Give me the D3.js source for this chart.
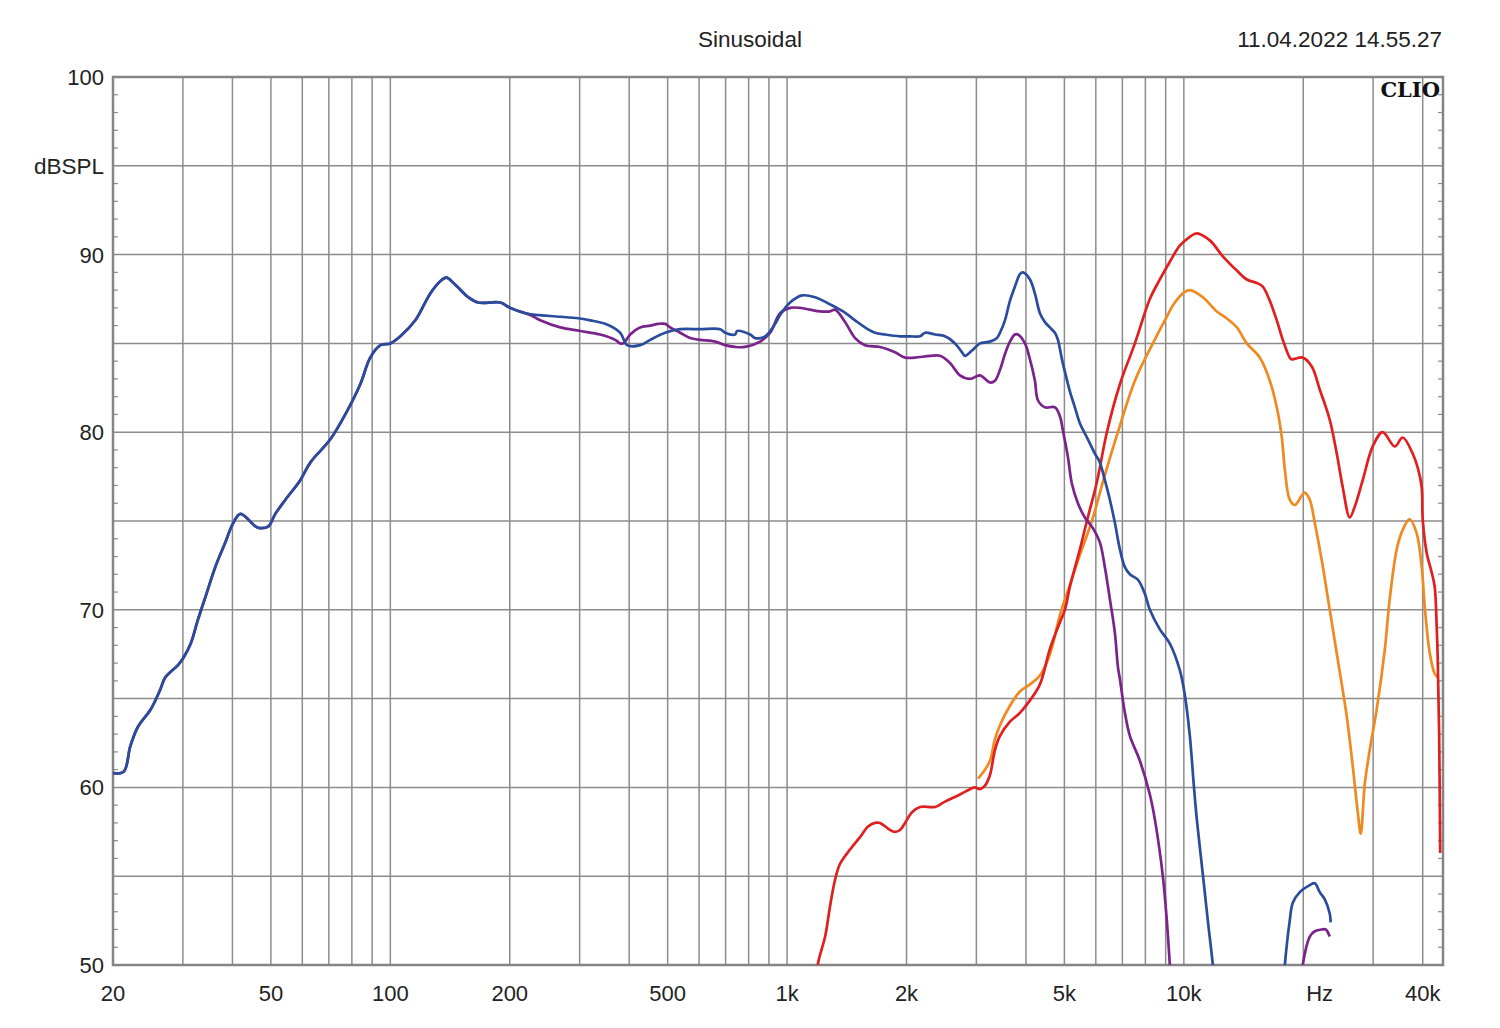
<!DOCTYPE html>
<html>
<head>
<meta charset="utf-8">
<script src="https://cdn.jsdelivr.net/npm/d3@7/dist/d3.min.js"></script>
<style>
  html, body { margin: 0; padding: 0; background: #ffffff; }
  svg { display: block; }
  text { font-family: Arial, "Liberation Sans", sans-serif; fill: #222; }
</style>
</head>
<body>
<svg id="chart" width="1500" height="1028"></svg>
<script>
// ---------- DATA ----------
const titleText = "Sinusoidal";
const dateText = "11.04.2022 14.55.27";
const yLabel = "dBSPL";
const yTickValues = [50, 60, 70, 80, 90, 100];
const xTickValues = [20, 50, 100, 200, 500, 1000, 2000, 5000, 10000, 22000, 40000];
const xTickLabels = ["20", "50", "100", "200", "500", "1k", "2k", "5k", "10k", "Hz", "40k"];
const xGridValues = [30, 40, 50, 60, 70, 80, 90, 100, 200, 300, 400, 500, 600, 700, 800, 900,
  1000, 2000, 3000, 4000, 5000, 6000, 7000, 8000, 9000, 10000, 20000, 30000, 40000];
const yGridValues = [55, 60, 65, 70, 75, 80, 85, 90, 95];

// shared low-frequency portion (blue and purple overlap)
const sharedFreq = [20, 21.3, 22.1, 23.1, 24.9, 26.3, 27.1, 29.2, 30.1, 31.4, 32.7, 34.4, 36.2, 38.4, 40, 41.9,
  45.7, 47, 49.3, 51.3, 54.4, 59.3, 62.9, 70.6, 77, 84, 89, 94.4, 100, 106, 115.6, 126, 133.6, 138.4,
  145.8, 157.2, 166.6, 189.3, 200.6, 218.9];
const sharedDb = [60.8, 60.9, 62.3, 63.4, 64.4, 65.5, 66.2, 66.9, 67.3, 68.1, 69.4, 70.9, 72.4, 73.8, 74.8, 75.4,
  74.7, 74.6, 74.7, 75.4, 76.2, 77.3, 78.3, 79.6, 81.0, 82.7, 84.2, 84.9, 85.0, 85.4, 86.3, 87.8, 88.5, 88.7,
  88.3, 87.6, 87.3, 87.3, 87.0, 86.7];

const blueFreq = [268.1, 301, 319, 348, 379.6, 395.4, 426.4, 451.8, 492.9, 537.8, 603.9, 678, 698.1, 739.6,
  748.3, 806.9, 830.6, 880.3, 932.9, 960.3, 1017.6, 1090.9, 1176.3, 1283, 1383.8, 1484, 1572, 1666, 1766,
  1926, 2041, 2163, 2227, 2360, 2500, 2650, 2760, 2808, 2925, 3063, 3246, 3381, 3440, 3541, 3645, 3752,
  3863, 3931, 4094, 4214, 4338, 4466, 4597, 4733, 4816, 4929, 5015, 5162, 5314, 5470, 5730, 5968, 6143,
  6324, 6510, 6702, 6900, 7103, 7311, 7658, 7976, 8210, 8701, 9220, 9770, 10058, 10354, 10598, 10783,
  11166, 11494, 11832, 12100];
const blueDb = [86.5, 86.4, 86.3, 86.1, 85.6, 84.9, 84.9, 85.2, 85.6, 85.8, 85.8, 85.8, 85.6, 85.5,
  85.7, 85.5, 85.3, 85.4, 86.1, 86.6, 87.3, 87.7, 87.6, 87.2, 86.8, 86.3, 85.9, 85.6, 85.5,
  85.4, 85.4, 85.4, 85.6, 85.5, 85.4, 85.0, 84.5, 84.3, 84.6, 85.0, 85.1, 85.3, 85.6, 86.3, 87.4, 88.2,
  88.9, 89.0, 88.6, 87.8, 86.7, 86.2, 85.9, 85.6, 85.2, 84.1, 83.4, 82.3, 81.4, 80.5, 79.6, 78.8, 78.3,
  77.3, 76.2, 74.9, 73.4, 72.4, 72.0, 71.7, 70.9, 70.0, 68.9, 68.1, 66.6, 65.2, 62.9, 60.1, 58.2,
  55.1, 52.5, 50.0, 47.5];
const blueStubFreq = [17700, 17970, 18490, 18820, 19600, 20770, 21380, 22010, 22660, 23320, 23450];
const blueStubDb = [48.0, 50.0, 52.5, 53.5, 54.1, 54.5, 54.6, 54.1, 53.7, 52.9, 52.4];

const purpleFreq = [225.3, 238.7, 268.1, 301, 338.1, 368.8, 379.6, 386.3, 402.4, 426.4, 451.8, 473.3, 492.9,
  507.4, 537.8, 569.8, 603.9, 658.6, 698.1, 739.6, 783.9, 855.1, 906.3, 960.3, 1017.6, 1078.3, 1142.6,
  1211, 1283, 1321, 1400, 1484, 1572, 1715, 1871, 1983, 2101, 2292, 2429, 2574, 2728, 2891, 3063, 3246,
  3341, 3440, 3541, 3645, 3752, 3818, 3977, 4094, 4214, 4288, 4466, 4733, 4872, 4957, 5103, 5223, 5408,
  5631, 5899, 6143, 6324, 6510, 6702, 6820, 6900, 7103, 7311, 7748, 8210, 8452, 8853, 9060, 9220, 9400];
const purpleDb = [86.6, 86.3, 85.9, 85.7, 85.5, 85.2, 85.0, 85.0, 85.5, 85.9, 86.0, 86.1, 86.1,
  85.9, 85.6, 85.3, 85.2, 85.1, 84.9, 84.8, 84.8, 85.1, 85.6, 86.7, 87.0, 87.0, 86.9,
  86.8, 86.8, 86.9, 86.2, 85.3, 84.9, 84.8, 84.5, 84.2, 84.2, 84.3, 84.3, 83.9, 83.2, 83.0, 83.2, 82.8,
  82.9, 83.5, 84.4, 85.1, 85.5, 85.5, 85.0, 84.1, 82.9, 81.8, 81.4, 81.4, 80.9, 80.1, 78.6, 77.1, 76.0,
  75.2, 74.6, 73.8, 72.4, 70.6, 68.7, 66.8, 66.1, 64.2, 62.9, 61.5, 59.6, 58.2, 55.0, 52.5, 50.0, 47.0];
const purpleStubFreq = [19700, 19940, 20770, 21380, 22260, 22790, 23320];
const purpleStubDb = [48.5, 50.0, 51.6, 51.9, 52.0, 52.0, 51.6];

const redFreq = [1180, 1197, 1247, 1283, 1321, 1360, 1441, 1527, 1600, 1666, 1715, 1817, 1871, 1926, 1983,
  2065, 2163, 2360, 2500, 2728, 2891, 2976, 3063, 3153, 3246, 3341, 3440, 3645, 3863, 4094, 4338, 4597,
  4872, 5015, 5162, 5470, 5697, 6038, 6398, 6900, 7527, 8210, 8701, 9220, 9770, 10354, 10783, 11628,
  12540, 13600, 14410, 15270, 15810, 16470, 17150, 17760, 18490, 18710, 19940, 21010, 22010, 23320,
  24290, 25150, 26190, 26960, 28240, 29930, 31710, 34000, 35610, 37740, 38860, 39770, 40000, 40940,
  42150, 42880, 43390, 43640, 44000, 44270];
const redDb = [48.5, 50.1, 51.6, 53.3, 54.8, 55.7, 56.5, 57.2, 57.8, 58.0, 58.0, 57.6, 57.5, 57.6, 58.0,
  58.6, 58.9, 58.9, 59.2, 59.6, 59.9, 60.0, 59.9, 60.1, 60.7, 62.1, 62.9, 63.7, 64.2, 64.9, 65.8, 67.8,
  69.3, 70.0, 71.3, 73.4, 75.0, 77.2, 80.0, 82.7, 85.0, 87.5, 88.6, 89.6, 90.5, 91.0, 91.2, 90.8,
  89.9, 89.1, 88.6, 88.4, 88.2, 87.4, 86.3, 85.2, 84.2, 84.1, 84.2, 83.7, 82.4, 80.7,
  78.8, 76.9, 75.2, 75.8, 77.3, 79.2, 80.0, 79.2, 79.7, 78.8, 78.0, 76.9, 75.1, 73.2,
  72.1, 71.3, 69.0, 67.3, 63.1, 56.3];

const orangeFreq = [3028, 3153, 3246, 3341, 3440, 3645, 3863, 4094, 4338, 4597, 4872, 5162, 5470, 5865,
  6324, 6820, 7527, 8355, 8957, 9491, 10058, 10354, 11166, 12110, 12835, 13600, 14410, 15540, 16470,
  17150, 17660, 17970, 18490, 19040, 20170, 20770, 21380, 22260, 23320, 24430, 25740, 26650, 27440,
  27920, 28580, 29410, 30630, 32080, 33030, 34400, 35610, 37090, 38630, 39770, 40470, 41650, 42880, 43640];
const orangeDb = [60.5, 61.0, 61.5, 62.7, 63.5, 64.6, 65.4, 65.8, 66.3, 67.5, 69.7, 71.4, 73.1, 75.0,
  77.6, 80.0, 82.9, 85.0, 86.3, 87.3, 87.9, 88.0, 87.6, 86.8, 86.4, 85.9, 85.0, 84.2, 82.9,
  81.4, 79.7, 77.9, 76.2, 75.9, 76.6, 76.2, 74.9, 72.8, 70.0, 67.2, 64.0, 61.2, 58.6,
  57.4, 60.2, 62.1, 64.4, 67.7, 70.6, 73.4, 74.5, 75.1, 74.3, 72.4, 70.2, 67.6, 66.4, 66.2];

// ---------- CHART ----------
const svg = d3.select("#chart");
const L = 113, R = 1443, T = 77, B = 965;

const x = d3.scaleLog().domain([20, 45000]).range([L, R]);
const y = d3.scaleLinear().domain([50, 100]).range([B, T]);

const gridColor = "#8c8c8c";

// grid
svg.append("g").selectAll("line").data(xGridValues).join("line")
  .attr("x1", d => x(d)).attr("x2", d => x(d)).attr("y1", T).attr("y2", B)
  .attr("stroke", gridColor).attr("stroke-width", 1.5);
svg.append("g").selectAll("line").data(yGridValues).join("line")
  .attr("x1", L).attr("x2", R).attr("y1", d => y(d)).attr("y2", d => y(d))
  .attr("stroke", gridColor).attr("stroke-width", 1.5);

// minor ticks on left and right axes
const minor = d3.range(51, 100).filter(v => v % 5 !== 0);
svg.append("g").selectAll("line").data(minor).join("line")
  .attr("x1", L).attr("x2", L + 5).attr("y1", d => y(d)).attr("y2", d => y(d))
  .attr("stroke", gridColor).attr("stroke-width", 1.2);
svg.append("g").selectAll("line").data(minor).join("line")
  .attr("x1", R - 5).attr("x2", R).attr("y1", d => y(d)).attr("y2", d => y(d))
  .attr("stroke", gridColor).attr("stroke-width", 1.2);

// frame
svg.append("rect").attr("x", L).attr("y", T).attr("width", R - L).attr("height", B - T)
  .attr("fill", "none").attr("stroke", "#858585").attr("stroke-width", 2.5);

// clip
svg.append("defs").append("clipPath").attr("id", "plotclip")
  .append("rect").attr("x", L).attr("y", T).attr("width", R - L).attr("height", B - T);

const line = d3.line().x(d => x(d[0])).y(d => y(d[1])).curve(d3.curveCatmullRom.alpha(0.5));
const zip = (f, v) => f.map((d, i) => [d, v[i]]);

const series = [
  { pts: zip(orangeFreq, orangeDb), color: "#f0891f" },
  { pts: zip(redFreq, redDb), color: "#e01f1f" },
  { pts: zip(sharedFreq.concat(purpleFreq), sharedDb.concat(purpleDb)), color: "#7a238a" },
  { pts: zip(purpleStubFreq, purpleStubDb), color: "#7a238a" },
  { pts: zip(sharedFreq.concat(blueFreq), sharedDb.concat(blueDb)), color: "#2a4c9c" },
  { pts: zip(blueStubFreq, blueStubDb), color: "#2a4c9c" }
];

const gLines = svg.append("g").attr("clip-path", "url(#plotclip)");
gLines.selectAll("path").data(series).join("path")
  .attr("d", d => line(d.pts))
  .attr("fill", "none")
  .attr("stroke", d => d.color)
  .attr("stroke-width", 2.7)
  .attr("stroke-linejoin", "round");

// y labels
svg.append("g").selectAll("text").data(yTickValues).join("text")
  .attr("x", 104).attr("y", d => y(d)).attr("dy", "0.36em")
  .attr("text-anchor", "end").attr("font-size", 22).text(d => d);
svg.append("text").attr("x", 104).attr("y", y(95)).attr("dy", "0.36em")
  .attr("text-anchor", "end").attr("font-size", 22.5).text(yLabel);

// x labels
svg.append("g").selectAll("text").data(xTickValues).join("text")
  .attr("x", d => x(d)).attr("y", 993).attr("dy", "0.36em")
  .attr("text-anchor", "middle").attr("font-size", 22).text((d, i) => xTickLabels[i]);

// title and date
svg.append("text").attr("x", 750).attr("y", 39).attr("dy", "0.36em")
  .attr("text-anchor", "middle").attr("font-size", 22.5).text(titleText);
svg.append("text").attr("x", 1442).attr("y", 39).attr("dy", "0.36em")
  .attr("text-anchor", "end").attr("font-size", 22.5).text(dateText);

// CLIO mark
svg.append("text").attr("x", 1440).attr("y", 97)
  .attr("text-anchor", "end").attr("font-size", 21).attr("font-weight", "bold")
  .style("font-family", "'DejaVu Serif', 'Liberation Serif', serif").style("fill", "#111")
  .text("CLIO");
</script>
</body>
</html>
